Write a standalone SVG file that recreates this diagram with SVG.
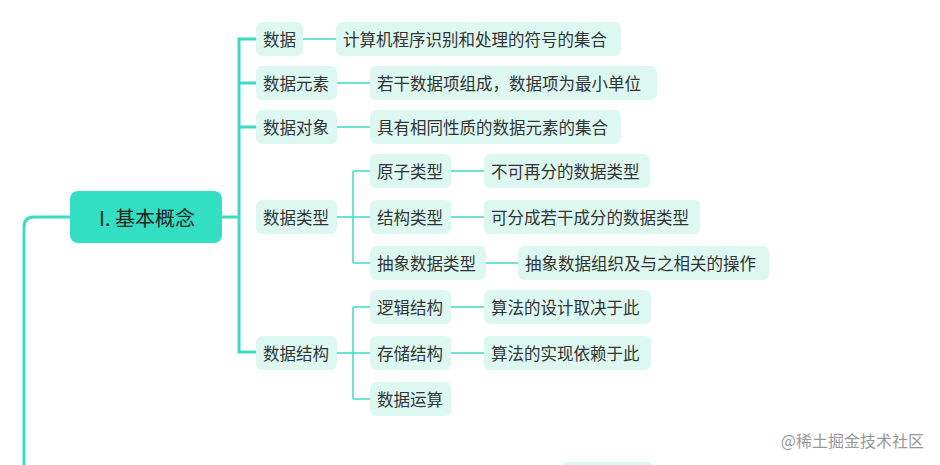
<svg xmlns="http://www.w3.org/2000/svg" width="940" height="465" viewBox="0 0 940 465">
<style>
.n{fill:#dcf8f0}
.t{font-family:"Noto Sans CJK SC","Liberation Sans",sans-serif;font-size:16.5px;fill:#333;dominant-baseline:central}
.thick{stroke:#3ddcc2;stroke-width:3;fill:none}
.thin{stroke:#3ddcc2;stroke-width:1.5;fill:none}
</style>
<rect width="940" height="465" fill="#fff"/>
<g id="connectors">
<path class="thick" d="M70 217 H34 Q24 217 24 227 V465"/>
<path class="thick" d="M222 217 H239 M256 39 H239 V352 H256 M239 83 H256 M239 127 H256"/>
<path class="thin" d="M303 39 H336 M337 83 H370 M337 127 H370 M337 217 H370 M353 171 V263 M353 171 H370 M353 263 H370 M451 171 H484 M451 217 H484 M486 263 H518"/>
<path class="thin" d="M337 353 H370 M353 307 V399 M353 307 H370 M353 399 H370 M451 307 H484 M451 353 H484"/>
</g>
<g id="root"><rect x="70" y="191" width="152" height="52" rx="8" fill="#33dfc3"/><text class="t" x="147" y="217" text-anchor="middle" style="font-size:20px;fill:#222">I. 基本概念</text></g>
<g id="n1"><rect class="n" x="256" y="22" width="47" height="34" rx="6"/><text class="t" x="263" y="39">数据</text></g>
<g id="n2"><rect class="n" x="256" y="66" width="81" height="34" rx="6"/><text class="t" x="263" y="83">数据元素</text></g>
<g id="n3"><rect class="n" x="256" y="110" width="81" height="34" rx="6"/><text class="t" x="263" y="127">数据对象</text></g>
<g id="n4"><rect class="n" x="256" y="200" width="81" height="34" rx="6"/><text class="t" x="263" y="217">数据类型</text></g>
<g id="n5"><rect class="n" x="256" y="336" width="81" height="34" rx="6"/><text class="t" x="263" y="353">数据结构</text></g>
<g id="l1"><rect class="n" x="336" y="22" width="285" height="34" rx="6"/><text class="t" x="343" y="39">计算机程序识别和处理的符号的集合</text></g>
<g id="l2"><rect class="n" x="370" y="66" width="287" height="34" rx="6"/><text class="t" x="377" y="83">若干数据项组成，数据项为最小单位</text></g>
<g id="l3"><rect class="n" x="370" y="110" width="251" height="34" rx="6"/><text class="t" x="377" y="127">具有相同性质的数据元素的集合</text></g>
<g id="t1"><rect class="n" x="370" y="154" width="81" height="34" rx="6"/><text class="t" x="377" y="171">原子类型</text></g>
<g id="t2"><rect class="n" x="370" y="200" width="81" height="34" rx="6"/><text class="t" x="377" y="217">结构类型</text></g>
<g id="t3"><rect class="n" x="370" y="246" width="116" height="34" rx="6"/><text class="t" x="377" y="263">抽象数据类型</text></g>
<g id="t1l"><rect class="n" x="484" y="154" width="166" height="34" rx="6"/><text class="t" x="491" y="171">不可再分的数据类型</text></g>
<g id="t2l"><rect class="n" x="484" y="200" width="216" height="34" rx="6"/><text class="t" x="491" y="217">可分成若干成分的数据类型</text></g>
<g id="t3l"><rect class="n" x="518" y="246" width="251" height="34" rx="6"/><text class="t" x="525" y="263">抽象数据组织及与之相关的操作</text></g>
<g id="s1"><rect class="n" x="370" y="290" width="81" height="34" rx="6"/><text class="t" x="377" y="307">逻辑结构</text></g>
<g id="s2"><rect class="n" x="370" y="336" width="81" height="34" rx="6"/><text class="t" x="377" y="353">存储结构</text></g>
<g id="s3"><rect class="n" x="370" y="382" width="81" height="34" rx="6"/><text class="t" x="377" y="399">数据运算</text></g>
<g id="s1l"><rect class="n" x="484" y="290" width="167" height="34" rx="6"/><text class="t" x="491" y="307">算法的设计取决于此</text></g>
<g id="s2l"><rect class="n" x="484" y="336" width="167" height="34" rx="6"/><text class="t" x="491" y="353">算法的实现依赖于此</text></g>
<rect class="n" x="562" y="462" width="91" height="10" rx="6"/>
<text x="924" y="440" text-anchor="end" style="font-family:'Noto Sans CJK SC',sans-serif;font-size:16px;fill:#999;dominant-baseline:central">@稀土掘金技术社区</text>
</svg>
